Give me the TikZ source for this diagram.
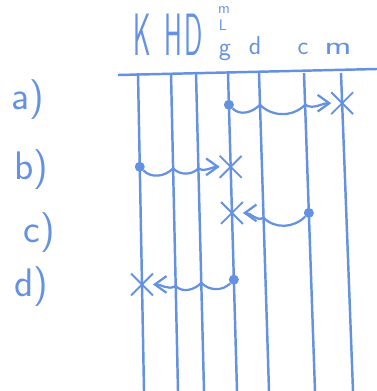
\documentclass[tikz,border=0pt]{standalone}
\usepackage{tikz}
\usetikzlibrary{arrows.meta,calc,shapes.misc}
\definecolor{pen}{RGB}{100,145,225}
\tikzset{>={Straight Barb[length=3.5mm,width=5mm]}}
\tikzstyle{wire}=[draw=pen,line width=2.1pt]
\tikzstyle{wave}=[draw=pen,line width=1.9pt,->]
\tikzstyle{src}=[circle,fill=pen,inner sep=0pt,minimum size=3mm]
\tikzstyle{tgt}=[cross out,draw=pen,line width=1.6pt,minimum size=6mm,inner sep=0pt]
\tikzstyle{head}=[text=pen,font=\sffamily\fontsize{51}{51}\selectfont,inner sep=0pt,anchor=base,xscale=0.45]
\tikzstyle{lower}=[text=pen,font=\sffamily\fontsize{22}{22}\selectfont,inner sep=0pt,anchor=base]
\tikzstyle{row}=[text=pen,font=\sffamily\fontsize{34}{34}\selectfont,inner sep=0pt]

\begin{document}
\begin{tikzpicture}[x=0.03cm,y=0.03cm]
	\useasboundingbox (0,0) rectangle (377,-391);

	% header
	\node[head] (hK) at (142,-55) {K};
	\node[head] (hH) at (173,-55) {H};
	\node[head] (hD) at (194,-55) {D};
	\node[lower] (hg) at (225,-55) {g};
	\node[lower] (hd) at (255,-54) {d};
	\node[lower] (hc) at (303,-54) {c};
	\node[lower,xscale=1.4] (hm) at (338,-54) {m};
	\node[lower,font=\sffamily\fontsize{13}{13}\selectfont] (hL) at (223,-31) {L};
	\node[lower,font=\sffamily\fontsize{13}{13}\selectfont] (hm2) at (224,-14) {m};

	\coordinate (hl) at (118,-75);
	\coordinate (hr) at (377,-69);
	\draw[wire] (hl) -- (hr);

	% columns
	\foreach \name/\xt/\xb in {K/138/144, H/171/178, D/196/204, g/228/237, d/259/269, c/304/315, m/341/353} {
		\coordinate (\name t) at (\xt,-73);
		\coordinate (\name b) at (\xb,-391);
		\draw[wire] (\name t) -- (\name b);
	}

	% rows
	\node[row] (la) at (28,-100) {a)};
	\node[row] (lb) at (31,-170) {b)};
	\node[row] (lc) at (39,-233) {c)};
	\node[row] (ld) at (31,-287) {d)};

	% a)
	\node[src] (srcA) at ($(gt)!0.10!(gb)$) {};
	\coordinate (a1) at ($(dt)!0.10!(db)$);
	\coordinate (a2) at ($(ct)!0.10!(cb)$);
	\node[tgt] (tgtA) at ($(mt)!0.095!(mb)$) {};
	\draw[wave] (srcA) to[out=-45,in=-135] (a1) to[out=-45,in=-135] (a2) to[out=-30,in=180] (tgtA);

	% b)
	\node[src] (srcB) at ($(Kt)!0.295!(Kb)$) {};
	\coordinate (b1) at ($(Ht)!0.30!(Hb)$);
	\coordinate (b2) at ($(Dt)!0.30!(Db)$);
	\node[tgt] (tgtB) at ($(gt)!0.295!(gb)$) {};
	\draw[wave] (srcB) to[out=-45,in=-135] (b1) to[out=-45,in=-135] (b2) to[out=-30,in=180] (tgtB);

	% c)
	\node[src] (srcC) at ($(ct)!0.44!(cb)$) {};
	\coordinate (c1) at ($(dt)!0.455!(db)$);
	\node[tgt] (tgtC) at ($(gt)!0.44!(gb)$) {};
	\draw[wave] (srcC) to[out=-135,in=-45] (c1) to[out=-150,in=0] (tgtC);

	% d)
	\node[src] (srcD) at ($(gt)!0.65!(gb)$) {};
	\coordinate (d1) at ($(Dt)!0.66!(Db)$);
	\coordinate (d2) at ($(Ht)!0.67!(Hb)$);
	\node[tgt] (tgtD) at ($(Kt)!0.665!(Kb)$) {};
	\draw[wave] (srcD) to[out=-135,in=-45] (d1) to[out=-135,in=-45] (d2) to[out=-150,in=0] (tgtD);
\end{tikzpicture}
\end{document}
